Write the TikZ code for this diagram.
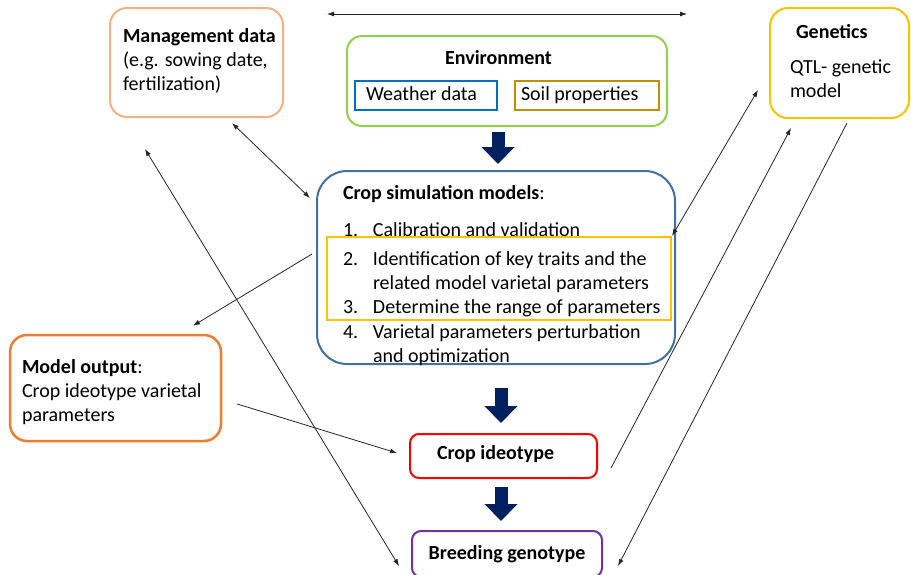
\documentclass[tikz,border=0pt]{standalone}
\usepackage{fontspec}
\setmainfont{Carlito}
\usepackage{tikz}
\usetikzlibrary{arrows.meta,positioning}
\definecolor{IdeoPeach}{HTML}{F4B183}
\definecolor{IdeoGreen}{HTML}{92D050}
\definecolor{IdeoBlue}{HTML}{0070C0}
\definecolor{IdeoOchre}{HTML}{BF9000}
\definecolor{IdeoGold}{HTML}{FFC000}
\definecolor{IdeoSteel}{HTML}{41719C}
\definecolor{IdeoOrange}{HTML}{ED7D31}
\definecolor{IdeoRed}{HTML}{FF0000}
\definecolor{IdeoPurple}{HTML}{7030A0}
\definecolor{IdeoNavy}{HTML}{002060}
\tikzset{
  management/.style={draw=IdeoPeach, line width=2pt, rounded corners=17pt, fill=white,
    inner xsep=6pt, inner ysep=20pt},
  environment/.style={draw=IdeoGreen, line width=2pt, rounded corners=15pt, fill=white,
    inner xsep=10pt, inner ysep=14pt},
  dataset/.style={line width=2pt, inner ysep=0pt, align=flush left,
    text height=14pt, text depth=4pt, minimum height=29pt},
  genetics/.style={draw=IdeoGold, line width=2pt, rounded corners=18pt, fill=white,
    inner xsep=14pt, inner ysep=16pt},
  simulation/.style={draw=IdeoSteel, line width=2pt, rounded corners=30pt, fill=white,
    inner xsep=11pt, inner ysep=14pt},
  highlight/.style={draw=IdeoGold, line width=2pt, inner sep=0pt},
  output/.style={draw=IdeoOrange, line width=2.5pt, rounded corners=17pt, fill=white,
    inner xsep=12pt, inner ysep=24pt},
  ideotype/.style={draw=IdeoRed, line width=2pt, rounded corners=9pt,
    minimum width=187pt, minimum height=44pt, inner xsep=27pt, text width=133pt,
    align=flush left, text height=12pt, text depth=6pt,
    font=\fontsize{20}{24}\selectfont\bfseries},
  genotype/.style={draw=IdeoPurple, line width=2pt, rounded corners=9pt,
    minimum width=190pt, minimum height=46pt, inner sep=0pt, align=center,
    text height=14pt, text depth=4pt, font=\fontsize{20}{24}\selectfont\bfseries},
  wire/.style={-{Latex[length=7pt,width=5pt]}, line width=0.8pt, draw=black!85},
  twoway/.style={wire, {Latex[length=7pt,width=5pt]}-{Latex[length=7pt,width=5pt]}},
  push/.style={draw=IdeoNavy, line width=13pt, -{Triangle[length=17pt,width=32pt]}}
}
% top-aligned text block of fixed size inside a box
\newcommand{\boxtext}[3]{\parbox[c][#2][t]{#1}{#3}}

\begin{document}
\begin{tikzpicture}[x=1pt, y=-1pt, font=\fontsize{20}{24}\selectfont]
  \useasboundingbox (0,0) rectangle (911,574);

  % inputs
  \node[management] (mgmt) at (196.5,62.5)
    {\boxtext{161pt}{69pt}{\leftskip=7pt\textbf{Management data}\\(e.g. sowing date,\\fertilization)}};
  \node[environment] (env) at (507,81)
    {\boxtext{300pt}{62pt}{\centering\hspace*{-17pt}\textbf{Environment}}};
  \node[dataset, draw=IdeoBlue, inner xsep=11pt, text width=120pt] (weather) at (426,95.5) {Weather data};
  \node[dataset, draw=IdeoOchre, inner xsep=6pt, text width=132pt] (soil) at (587,95) {Soil properties};
  \node[genetics] (gen) at (839.5,63)
    {\boxtext{111pt}{78pt}{\leftskip=6pt\hspace*{6pt}\textbf{Genetics}\\[11pt]QTL- genetic\\model}};

  % model steps
  \node[simulation] (sim) at (496,267.5)
    {\boxtext{336pt}{165pt}{\leftskip=15pt\textbf{Crop simulation models}:\\[13pt]
      \makebox[30pt][l]{1.}Calibration and validation\\[5pt]
      \makebox[30pt][l]{2.}Identification of key traits and the\\
      \hspace*{30pt}related model varietal parameters\\
      \makebox[30pt][l]{3.}Determine the range of parameters\\[1pt]
      \makebox[30pt][l]{4.}Varietal parameters perturbation\\
      \hspace*{30pt}and optimization}};
  \node[highlight, minimum width=344pt, minimum height=83pt] (keys) at (499,278.5) {};
  \node[output] (out) at (115.5,388)
    {\boxtext{187pt}{58pt}{\textbf{Model output}:\\Crop ideotype varietal\\parameters}};
  \node[ideotype, below=68pt of sim, xshift=7.5pt] (ideo) {Crop ideotype};
  \node[genotype, below=51pt of ideo, xshift=3.5pt] (breed) {Breeding genotype};

  \coordinate (westend) at (327,14);
  \coordinate (eastend) at (687,14);

  % flow
  \draw[push] ([xshift=-9pt,yshift=-5pt]env.south) -- ([xshift=2pt,yshift=6pt]sim.north);
  \draw[push] ([xshift=5pt,yshift=-23pt]sim.south) -- ([xshift=-2.5pt,yshift=10pt]ideo.north);
  \draw[push] ([xshift=-2.5pt,yshift=-8pt]ideo.south) -- ([xshift=-6pt,yshift=9pt]breed.north);

  \draw[twoway] (westend) -- (eastend);
  \draw[twoway] ([xshift=35.5pt,yshift=-5pt]mgmt.south) -- ([xshift=-6pt,yshift=-28pt]sim.north west);
  \draw[twoway] ([xshift=-51.5pt,yshift=-31pt]mgmt.south) -- ([xshift=-12pt,yshift=-12pt]breed.west);
  \draw[wire] ([xshift=-4pt,yshift=13.5pt]sim.west) -- ([xshift=77.5pt,yshift=8pt]out.north);
  \draw[wire] ([xshift=15pt,yshift=-16pt]out.east) -- ([xshift=-12pt,yshift=3pt]ideo.west);
  \draw[twoway] ([xshift=-11pt,yshift=-27pt]gen.west) -- (keys.north east);
  \draw[wire] ([xshift=13pt,yshift=-12pt]ideo.east) -- ([xshift=-48.5pt,yshift=-9pt]gen.south);
  \draw[wire] ([xshift=7.5pt,yshift=-4pt]gen.south) -- ([xshift=15pt,yshift=-12pt]breed.east);
\end{tikzpicture}
\end{document}
